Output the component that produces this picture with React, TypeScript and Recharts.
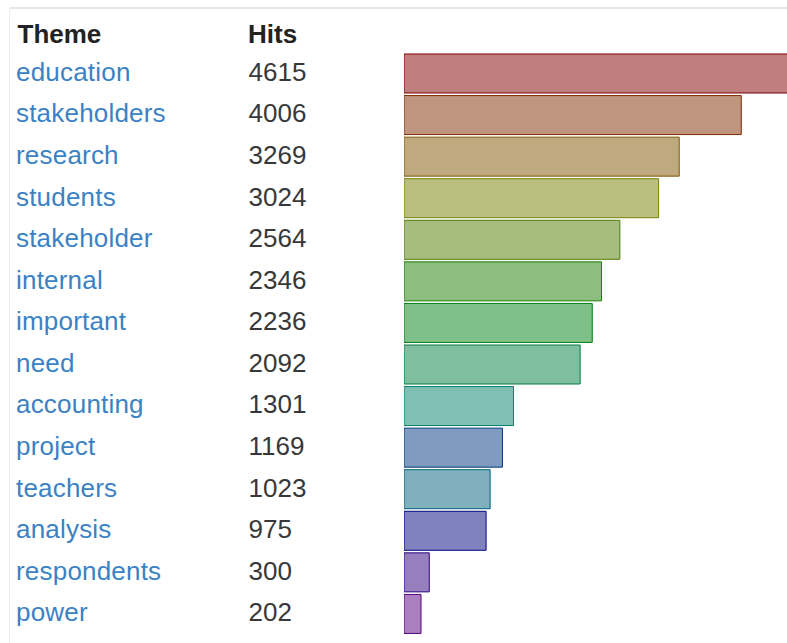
import React from "react";
import { BarChart, Bar, XAxis, YAxis, Cell } from "recharts";

const THEMES = [
  "education",
  "stakeholders",
  "research",
  "students",
  "stakeholder",
  "internal",
  "important",
  "need",
  "accounting",
  "project",
  "teachers",
  "analysis",
  "respondents",
  "power",
];

const HITS = [4615, 4006, 3269, 3024, 2564, 2346, 2236, 2092, 1301, 1169, 1023, 975, 300, 202];

// stroke colour; fill is the same colour at half opacity
const BAR_COLORS = [
  "#800000",
  "#802c00",
  "#805600",
  "#758000",
  "#4d7c00",
  "#198000",
  "#008011",
  "#007d3d",
  "#008069",
  "#00377f",
  "#006179",
  "#00057f",
  "#2b007f",
  "#55007f",
];

const FONT = '"Liberation Sans", Arial, Helvetica, sans-serif';

const chartData = THEMES.map((theme, i) => ({ theme, hits: HITS[i] }));

/**
 * Row label: theme link text plus the hit count
 */
const RowTick: React.FC<any> = ({ y, payload }) => {
  const idx = payload.index;
  return (
    <g>
      <text
        x={16}
        y={y + 7}
        fill="#3b82c4"
        fontSize={26}
        letterSpacing={0.2}
        fontFamily={FONT}
      >
        {payload.value}
      </text>
      <text x={248.5} y={y + 7} fill="#383838" fontSize={26} fontFamily={FONT}>
        {HITS[idx]}
      </text>
    </g>
  );
};

export default function App() {
  return (
    <div
      style={{
        position: "absolute",
        left: 0,
        top: 0,
        width: 787,
        height: 643,
        background: "#ffffff",
        overflow: "hidden",
      }}
    >
      <svg
        width={787}
        height={643}
        style={{ position: "absolute", left: 0, top: 0, pointerEvents: "none" }}
      >
        <rect x={10} y={7} width={777} height={2} fill="#e6e6e6" />
        <rect x={9} y={7} width={1} height={636} fill="#eeeeee" />
        <text x={17.5} y={43} fill="#222222" fontSize={26} fontWeight="bold" fontFamily={FONT}>
          Theme
        </text>
        <text x={248} y={43} fill="#222222" fontSize={26} fontWeight="bold" fontFamily={FONT}>
          Hits
        </text>
      </svg>
      <div style={{ position: "absolute", left: 0, top: 0 }}>
        <BarChart
          width={787}
          height={643}
          data={chartData}
          layout="vertical"
          margin={{ top: 53, right: 0, bottom: 8, left: 0 }}
        >
          <XAxis type="number" hide domain={[0, 4549]} allowDataOverflow />
          <YAxis
            type="category"
            dataKey="theme"
            width={404}
            axisLine={false}
            tickLine={false}
            tick={<RowTick />}
            interval={0}
          />
          <Bar dataKey="hits" barSize={39} isAnimationActive={false}>
            {chartData.map((d, i) => (
              <Cell
                key={d.theme}
                fill={BAR_COLORS[i]}
                fillOpacity={0.5}
                stroke={BAR_COLORS[i]}
                strokeWidth={1}
              />
            ))}
          </Bar>
        </BarChart>
      </div>
    </div>
  );
}
